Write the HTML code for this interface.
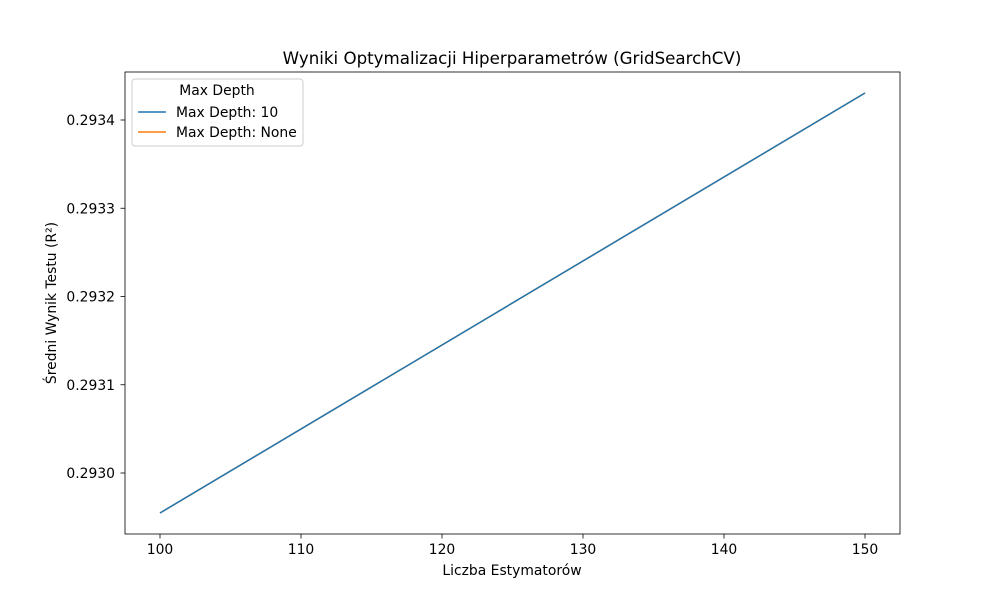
<!DOCTYPE html>
<html><head><meta charset="utf-8">
<style>
body{margin:0;background:#fff;}
svg{display:block;font-family:"DejaVu Sans","Liberation Sans",sans-serif;}
</style></head>
<body>
<svg id="chart" width="1000" height="600">
<rect width="1000" height="600" fill="#fff"/>
<text x="512" y="64" font-size="16.67" text-anchor="middle">Wyniki Optymalizacji Hiperparametrów (GridSearchCV)</text>
<g id="plot"></g>
<rect x="125" y="72" width="775" height="462" fill="none" stroke="#000" stroke-width="0.8"/>
<text x="512" y="575" font-size="13.9" text-anchor="middle">Liczba Estymatorów</text>
<text transform="translate(56,303) rotate(-90)" font-size="13.9" text-anchor="middle">Średni Wynik Testu (R²)</text>
<g>
<rect x="132" y="79" width="171" height="67" rx="3" fill="#fff" stroke="#ccc"/>
<text x="217" y="95" font-size="13.9" text-anchor="middle">Max Depth</text>
<line x1="138" y1="112" x2="166" y2="112" stroke="#1f77b4" stroke-width="1.5"/>
<text x="176" y="117" font-size="13.9">Max Depth: 10</text>
<line x1="138" y1="132" x2="166" y2="132" stroke="#ff7f0e" stroke-width="1.5"/>
<text x="176" y="137" font-size="13.9">Max Depth: None</text>
</g>
</svg>
<script>
const categories = [100, 150];
const seriesNone = [0.2929547, 0.2934306];
const series10 = [0.2929547, 0.2934306];
const xTicks = [100, 110, 120, 130, 140, 150];
const yTicks = [0.2930, 0.2931, 0.2932, 0.2933, 0.2934];
const NS = "http://www.w3.org/2000/svg";
const g = document.getElementById('plot');
function xs(v){return 160 + (v-100)*14.1;}
function ys(v){return 473 - (v-0.2930)*882500;}
function mk(t,a){const e=document.createElementNS(NS,t);for(const k in a)e.setAttribute(k,a[k]);g.appendChild(e);return e;}
xTicks.forEach(t=>{
  const l=mk('line',{x1:xs(t),x2:xs(t),y1:534,y2:538.5,stroke:'#000','stroke-width':0.8});
  
  
  const tx=mk('text',{x:xs(t),y:554,'font-size':13.9,'text-anchor':'middle'});
  tx.textContent=t;
  
  
});
yTicks.forEach(t=>{
  const l=mk('line',{x1:120.5,x2:125,y1:ys(t),y2:ys(t),stroke:'#000','stroke-width':0.8});
  
  
  const tx=mk('text',{x:115,y:ys(t)+5,'font-size':13.9,'text-anchor':'end'});
  tx.textContent=t.toFixed(4);
  
  
});
function line(vals,color,name){
  const p=mk('polyline',{points:categories.map((c,i)=>xs(c)+','+ys(vals[i])).join(' '),fill:'none',stroke:color,'stroke-width':1.5});
  
  
}
line(seriesNone,'#ff7f0e','line-max-depth-none');
line(series10,'#1f77b4','line-max-depth-10');
</script>
</body></html>
